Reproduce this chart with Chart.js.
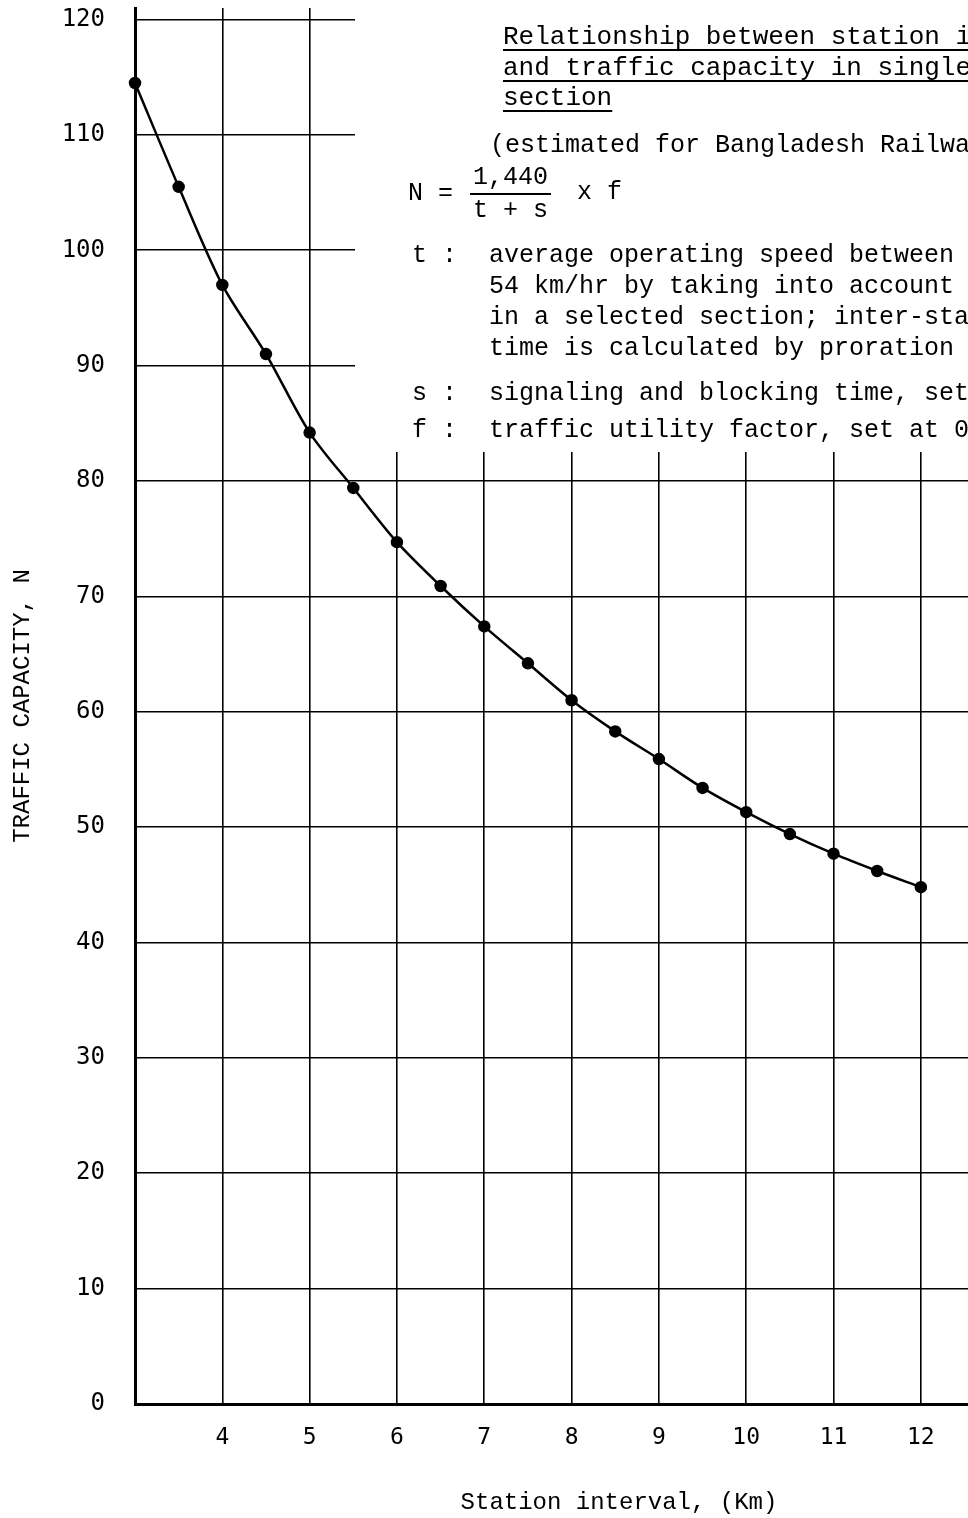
<!DOCTYPE html>
<html lang="en">
<head>
    <meta charset="UTF-8">
    <title>Station interval vs traffic capacity</title>
    <script src="https://cdn.jsdelivr.net/npm/chart.js"></script>
    <style>
        body { margin: 0; background: #fff; }
        #wrap { width: 968px; height: 1518px; position: relative; }
    </style>
</head>
<body>
<div id="wrap"><canvas id="capChart"></canvas></div>
<script>
    // station interval (km)
    const stationInterval = [3, 3.5, 4, 4.5, 5, 5.5, 6, 6.5, 7, 7.5, 8, 8.5, 9, 9.5, 10, 10.5, 11, 11.5, 12];
    // traffic capacity N (trains/day)
    const trafficCapacity = [114.5, 105.5, 97.0, 91.0, 84.2, 79.4, 74.7, 70.9, 67.4, 64.2, 61.0, 58.3, 55.9, 53.4, 51.3, 49.4, 47.7, 46.2, 44.8];
    const yTicks = [0, 10, 20, 30, 40, 50, 60, 70, 80, 90, 100, 110, 120];
    const xTicks = [3, 4, 5, 6, 7, 8, 9, 10, 11, 12];

    const titleLines = [
        "Relationship between station interval",
        "and traffic capacity in single-track",
        "section"
    ];
    const noteLines = [
        "average operating speed between",
        "54 km/hr by taking into account",
        "in a selected section; inter-station",
        "time is calculated by proration"
    ];

    const mono = '"Liberation Mono", "Courier New", monospace';

    // kill the automatic label padding so the plot area sits where it should
    function noPad(s) {
        s.paddingTop = 0;
        s.paddingBottom = 0;
        s.paddingLeft = 0;
        s.paddingRight = 0;
    }

    // white box where the notes sit (grid is hidden behind it)
    const noteBox = {
        id: 'noteBox',
        beforeDatasetsDraw(chart) {
            const ctx = chart.ctx;
            ctx.save();
            ctx.fillStyle = '#fff';
            ctx.fillRect(355, 0, chart.width - 355, 452);
            ctx.restore();
        },
        afterDraw(chart) {
            const ctx = chart.ctx;
            ctx.save();
            ctx.fillStyle = '#000';
            ctx.strokeStyle = '#000';
            ctx.textBaseline = 'middle';
            ctx.textAlign = 'left';

            // underlined heading
            ctx.font = '26px ' + mono;
            const ys = [37, 68, 98];
            titleLines.forEach((t, i) => {
                ctx.fillText(t, 503, ys[i]);
                const w = ctx.measureText(t).width;
                ctx.lineWidth = 2;
                ctx.beginPath();
                ctx.moveTo(503, ys[i] + 13);
                ctx.lineTo(503 + w, ys[i] + 13);
                ctx.stroke();
            });

            ctx.font = '25px ' + mono;
            ctx.fillText("(estimated for Bangladesh Railway)", 490, 145);

            // formula
            ctx.fillText("N =", 408, 193);
            ctx.fillText("1,440", 473, 177);
            ctx.lineWidth = 2;
            ctx.beginPath();
            ctx.moveTo(470, 194);
            ctx.lineTo(551, 194);
            ctx.stroke();
            ctx.fillText("t + s", 473, 210);
            ctx.fillText("x f", 577, 192);

            ctx.fillText("t :", 412, 255);
            noteLines.forEach((t, i) => ctx.fillText(t, 489, 255 + i * 31));
            ctx.fillText("s :", 412, 393);
            ctx.fillText("signaling and blocking time, set", 489, 393);
            ctx.fillText("f :", 412, 430);
            ctx.fillText("traffic utility factor, set at 0", 489, 430);

            // x axis title sits right of centre in the original
            ctx.font = '24px ' + mono;
            ctx.textAlign = 'center';
            ctx.fillText("Station interval, (Km)", 619, 1503);
            ctx.restore();
        }
    };

    const ctx = document.getElementById('capChart').getContext('2d');
    new Chart(ctx, {
        type: 'line',
        data: {
            datasets: [{
                data: stationInterval.map((x, i) => ({ x: x, y: trafficCapacity[i] })),
                borderColor: '#000',
                backgroundColor: '#000',
                borderWidth: 2.5,
                pointRadius: 5,
                pointBackgroundColor: '#000',
                tension: 0.3,
                clip: false
            }]
        },
        options: {
            responsive: true,
            maintainAspectRatio: false,
            animation: false,
            layout: { autoPadding: false, padding: { top: 8, right: 0, left: 0, bottom: 0 } },
            plugins: {
                legend: { display: false },
                tooltip: { enabled: false }
            },
            scales: {
                x: {
                    type: 'linear',
                    min: 3,
                    max: 12.54,
                    afterBuildTicks: s => { s.ticks = xTicks.map(v => ({ value: v })); },
                    afterFit: s => { s.height = 114; noPad(s); },
                    grid: { color: '#000', lineWidth: 1.6, drawTicks: false },
                    border: { color: '#000', width: 3 },
                    ticks: {
                        color: '#000',
                        padding: 20,
                        maxRotation: 0,
                        font: { family: '"DejaVu Sans Mono", monospace', size: 23 },
                        callback: v => v === 3 ? '' : v
                    }
                },
                y: {
                    min: 0,
                    max: 121,
                    afterBuildTicks: s => { s.ticks = yTicks.map(v => ({ value: v })); },
                    afterFit: s => { s.width = 135; noPad(s); },
                    grid: { color: '#000', lineWidth: 1.6, drawTicks: false },
                    border: { color: '#000', width: 3 },
                    ticks: {
                        color: '#000',
                        padding: 30,
                        font: { family: '"DejaVu Sans Mono", monospace', size: 24 }
                    },
                    title: {
                        display: true,
                        text: 'TRAFFIC CAPACITY, N',
                        color: '#000',
                        padding: 8,
                        font: { family: mono, size: 24 }
                    }
                }
            }
        },
        plugins: [noteBox]
    });
</script>
</body>
</html>
